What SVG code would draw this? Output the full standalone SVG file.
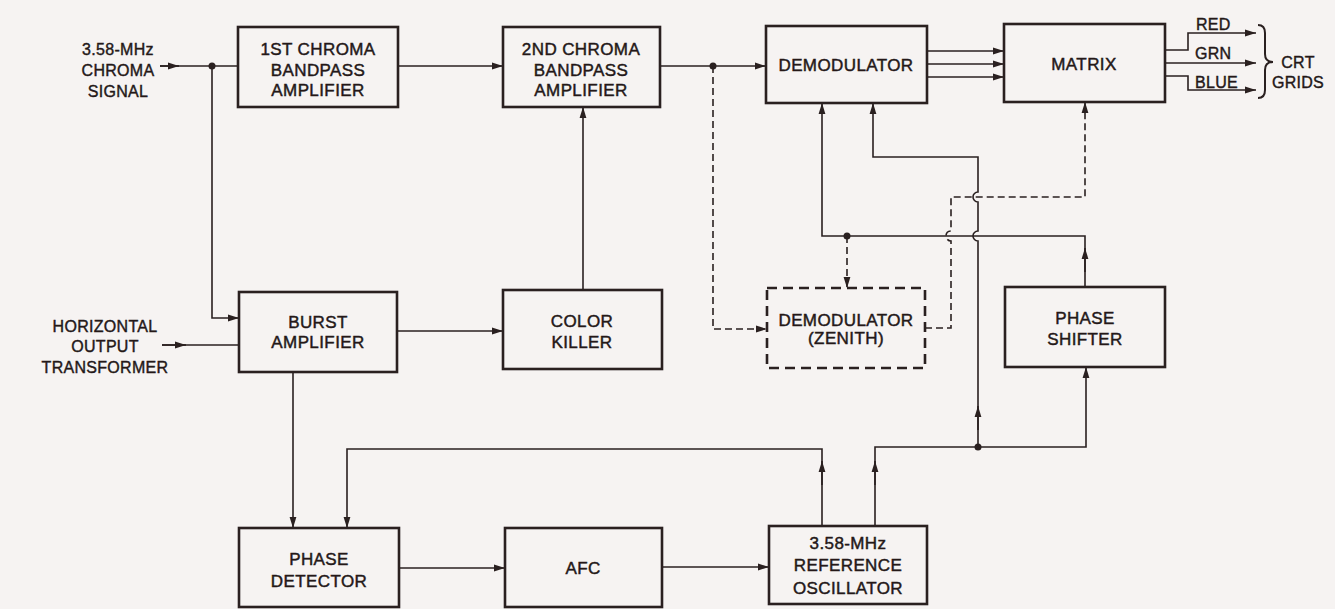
<svg xmlns="http://www.w3.org/2000/svg" width="1335" height="609" viewBox="0 0 1335 609">
<defs>
<marker id="a" markerWidth="12" markerHeight="8" refX="11" refY="4" orient="auto" markerUnits="userSpaceOnUse"><path d="M0,0.6 L11,4 L0,7.4 Z" fill="#2a2020"/></marker>
<style>
.box{fill:none;stroke:#2a2020;stroke-width:2.6}
.dbox{fill:none;stroke:#2a2020;stroke-width:2.6;stroke-dasharray:10 6}
.ln{fill:none;stroke:#2a2020;stroke-width:1.6}
.dl{fill:none;stroke:#2a2020;stroke-width:1.6;stroke-dasharray:7 4}
.t{font-family:"Liberation Sans",Arial,sans-serif;font-size:17px;fill:#241818;stroke:#241818;stroke-width:0.45px;text-anchor:middle;letter-spacing:0.4px}
.s{font-family:"Liberation Sans",Arial,sans-serif;font-size:16px;fill:#241818;stroke:#241818;stroke-width:0.4px;text-anchor:middle;letter-spacing:0.3px}
.l{font-family:"Liberation Sans",Arial,sans-serif;font-size:16px;fill:#241818;stroke:#241818;stroke-width:0.4px;letter-spacing:0.3px}
.dot{fill:#2a2020}
</style>
</defs>
<rect width="1335" height="609" fill="#f6f3f2"/>

<g id="connectors">
<path class="ln" d="M160,66 H238"/>
<path class="ln" d="M160,66 H179" marker-end="url(#a)"/>
<path class="ln" d="M212,66 V318 H239" marker-end="url(#a)"/>
<circle class="dot" cx="212" cy="66" r="3.5"/>
<path class="ln" d="M162,345 H239"/>
<path class="ln" d="M162,345 H186" marker-end="url(#a)"/>
<path class="ln" d="M398,66 H503" marker-end="url(#a)"/>
<path class="ln" d="M660,66 H766" marker-end="url(#a)"/>
<circle class="dot" cx="713" cy="66" r="3.5"/>
<path class="dl" d="M713,66 V329 H767" marker-end="url(#a)"/>
<path class="ln" d="M583,290 V107" marker-end="url(#a)"/>
<path class="ln" d="M397,331 H503" marker-end="url(#a)"/>
<path class="ln" d="M293,372 V528" marker-end="url(#a)"/>
<path class="ln" d="M399,568 H505" marker-end="url(#a)"/>
<path class="ln" d="M662,567 H769" marker-end="url(#a)"/>
<path class="ln" d="M822,526 V449 H347 V528" marker-end="url(#a)"/>
<path class="ln" d="M822,485 V461" marker-end="url(#a)"/>
<path class="ln" d="M875,526 V447 H1086 V367" marker-end="url(#a)"/>
<path class="ln" d="M875,485 V461" marker-end="url(#a)"/>
<circle class="dot" cx="978" cy="447" r="3.5"/>
<path class="ln" d="M978,447 V241 A5,5 0 0 1 978,231 V202 A5,5 0 0 1 978,192 V157 H873 V103" marker-end="url(#a)"/>
<path class="ln" d="M978,430 V406" marker-end="url(#a)"/>
<path class="ln" d="M1085,287 V236 H822 V103" marker-end="url(#a)"/>
<path class="ln" d="M1085,272 V248" marker-end="url(#a)"/>
<circle class="dot" cx="847" cy="236" r="3.5"/>
<path class="dl" d="M847,236 V288" marker-end="url(#a)"/>
<path class="dl" d="M925,328 H951 V241 A5,5 0 0 1 951,231 V197 H1085 V102" marker-end="url(#a)"/>
<path class="ln" d="M927,51 H1004" marker-end="url(#a)"/>
<path class="ln" d="M927,64 H1004" marker-end="url(#a)"/>
<path class="ln" d="M927,77 H1004" marker-end="url(#a)"/>
<path class="ln" d="M1165,50 H1188 V33 H1256" marker-end="url(#a)"/>
<path class="ln" d="M1165,63 H1256" marker-end="url(#a)"/>
<path class="ln" d="M1165,76 H1188 V90 H1256" marker-end="url(#a)"/>
<path d="M1258,25 Q1265,25 1265,33 V54 Q1265,62 1273,62 Q1265,62 1265,70 V90 Q1265,98 1258,98" fill="none" stroke="#2a2020" stroke-width="2"/>
</g>

<g id="labels">
<text class="s" x="118" y="55">3.58-MHz</text>
<text class="s" x="118" y="76">CHROMA</text>
<text class="s" x="118" y="97">SIGNAL</text>
<text class="s" x="105" y="332">HORIZONTAL</text>
<text class="s" x="105" y="352">OUTPUT</text>
<text class="s" x="105" y="373">TRANSFORMER</text>
<text class="l" x="1196" y="30">RED</text>
<text class="l" x="1195" y="59">GRN</text>
<text class="l" x="1195" y="88">BLUE</text>
<text class="s" x="1298" y="68">CRT</text>
<text class="s" x="1298" y="88">GRIDS</text>
</g>

<g id="chroma1">
<rect class="box" x="238" y="27" width="160" height="80"/>
<text class="t" x="318" y="55">1ST CHROMA</text>
<text class="t" x="318" y="76">BANDPASS</text>
<text class="t" x="318" y="96">AMPLIFIER</text>
</g>
<g id="chroma2">
<rect class="box" x="503" y="27" width="157" height="80"/>
<text class="t" x="581" y="55">2ND CHROMA</text>
<text class="t" x="581" y="76">BANDPASS</text>
<text class="t" x="581" y="96">AMPLIFIER</text>
</g>
<g id="demodulator">
<rect class="box" x="766" y="26" width="161" height="77"/>
<text class="t" x="846" y="71">DEMODULATOR</text>
</g>
<g id="matrix">
<rect class="box" x="1004" y="24" width="161" height="78"/>
<text class="t" x="1084" y="70">MATRIX</text>
</g>
<g id="burst">
<rect class="box" x="239" y="292" width="158" height="80"/>
<text class="t" x="318" y="328">BURST</text>
<text class="t" x="318" y="348">AMPLIFIER</text>
</g>
<g id="killer">
<rect class="box" x="503" y="290" width="159" height="79"/>
<text class="t" x="582" y="327">COLOR</text>
<text class="t" x="582" y="348">KILLER</text>
</g>
<g id="zenith">
<rect class="dbox" x="767" y="288" width="158" height="80"/>
<text class="t" x="846" y="326">DEMODULATOR</text>
<text class="t" x="846" y="344">(ZENITH)</text>
</g>
<g id="shifter">
<rect class="box" x="1005" y="287" width="160" height="80"/>
<text class="t" x="1085" y="324">PHASE</text>
<text class="t" x="1085" y="345">SHIFTER</text>
</g>
<g id="detector">
<rect class="box" x="239" y="528" width="160" height="79"/>
<text class="t" x="319" y="565">PHASE</text>
<text class="t" x="319" y="587">DETECTOR</text>
</g>
<g id="afc">
<rect class="box" x="505" y="528" width="157" height="79"/>
<text class="t" x="583" y="574">AFC</text>
</g>
<g id="oscillator">
<rect class="box" x="769" y="526" width="158" height="78"/>
<text class="t" x="848" y="549">3.58-MHz</text>
<text class="t" x="848" y="571">REFERENCE</text>
<text class="t" x="848" y="594">OSCILLATOR</text>
</g>
</svg>
